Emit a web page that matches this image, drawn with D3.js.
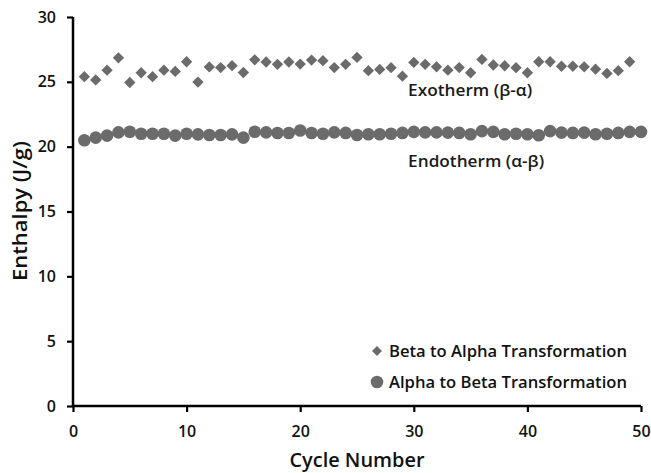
<!DOCTYPE html>
<html><head><meta charset="utf-8">
<script src="https://cdn.jsdelivr.net/npm/d3@7"></script>
<style>
body{margin:0;background:#fff;}
text{font-family:"Open Sans",sans-serif;}
</style></head>
<body><svg id="c" width="651" height="473"></svg>
<script>
const betaCycles = d3.range(1, 50);
const betaToAlpha = [25.4,25.15,25.9,26.85,24.95,25.7,25.4,25.9,25.8,26.55,24.98,26.15,26.1,26.25,25.72,26.7,26.53,26.35,26.53,26.37,26.68,26.63,26.1,26.35,26.88,25.86,25.96,26.09,25.44,26.5,26.35,26.16,25.9,26.1,25.7,26.73,26.3,26.24,26.09,25.7,26.55,26.55,26.2,26.2,26.16,25.98,25.65,25.86,26.55];
const alphaCycles = d3.range(1, 51);
const alphaToBeta = [20.5,20.7,20.85,21.1,21.15,21.0,21.0,21.0,20.85,21.0,20.95,20.9,20.9,20.95,20.7,21.15,21.1,21.05,21.05,21.25,21.05,21.0,21.1,21.06,20.9,20.96,20.96,21.0,21.06,21.14,21.1,21.1,21.08,21.06,20.96,21.2,21.14,20.96,21.0,20.96,20.88,21.2,21.08,21.06,21.08,20.96,21.0,21.06,21.14,21.14];
const xTicks = [0,10,20,30,40,50];
const yTicks = [0,5,10,15,20,25,30];
const seriesNames = ["Beta to Alpha Transformation","Alpha to Beta Transformation"];
const annotations = [{text:"Exotherm (β-α)", x:29.5, y:23.9, w:124},{text:"Endotherm (α-β)", x:29.5, y:18.4, w:136}];

const svg = d3.select("#c");
const x = d3.scaleLinear().domain([0,50]).range([73,641]);
const y = d3.scaleLinear().domain([0,30]).range([406,17]);
const col = "#6b6b6b";

const xa = svg.append("g").attr("transform","translate(0,406)")
  .call(d3.axisBottom(x).tickValues(xTicks).tickSize(6).tickPadding(14));
const ya = svg.append("g").attr("transform","translate(73,0)")
  .call(d3.axisLeft(y).tickValues(yTicks).tickSize(6).tickPadding(11));
[xa,ya].forEach(a=>{
  a.select(".domain").attr("stroke","#000").attr("stroke-width",2.5);
  a.selectAll(".tick line").attr("stroke","#000").attr("stroke-width",2.2);
  a.selectAll(".tick text").attr("font-family","Open Sans").attr("font-size",16).attr("font-weight",600).attr("fill","#111");
});
xa.select(".domain").attr("d","M73,0H641");
ya.select(".domain").attr("d","M0,17V406");

svg.append("text").attr("x",357).attr("y",467).attr("text-anchor","middle")
  .attr("font-size",19).attr("font-weight",600).attr("fill","#111")
  .attr("textLength",135).attr("lengthAdjust","spacingAndGlyphs").text("Cycle Number");
svg.append("text").attr("transform","translate(27,211) rotate(-90)").attr("text-anchor","middle")
  .attr("font-size",19).attr("font-weight",600).attr("fill","#111")
  .attr("textLength",140).attr("lengthAdjust","spacingAndGlyphs").text("Enthalpy (J/g)");

const diamond = d3.symbol().type(d3.symbolSquare).size(64);
svg.append("g").selectAll("path").data(betaToAlpha).join("path")
  .attr("d",diamond)
  .attr("transform",(d,i)=>`translate(${x(betaCycles[i])},${y(d)}) rotate(45)`)
  .attr("fill",col);
svg.append("g").selectAll("circle").data(alphaToBeta).join("circle")
  .attr("cx",(d,i)=>x(alphaCycles[i])).attr("cy",d=>y(d)).attr("r",6.3).attr("fill",col);

svg.append("g").selectAll("text").data(annotations).join("text")
  .attr("x",d=>x(d.x)).attr("y",d=>y(d.y)).attr("font-size",16.5).attr("font-weight",600).attr("fill","#1a1a1a")
  .attr("textLength",d=>d.w).attr("lengthAdjust","spacingAndGlyphs")
  .text(d=>d.text);

const lg = svg.append("g");
lg.append("path").attr("d",d3.symbol().type(d3.symbolSquare).size(50))
  .attr("transform","translate(377,351) rotate(45)").attr("fill",col);
lg.append("circle").attr("cx",377).attr("cy",382).attr("r",6.3).attr("fill",col);
lg.selectAll("text").data(seriesNames).join("text")
  .attr("x",389).attr("y",(d,i)=>351+i*31).attr("dy","0.36em")
  .attr("font-size",15.5).attr("font-weight",600).attr("fill","#111")
  .attr("textLength",238).attr("lengthAdjust","spacingAndGlyphs").text(d=>d);
</script></body></html>
